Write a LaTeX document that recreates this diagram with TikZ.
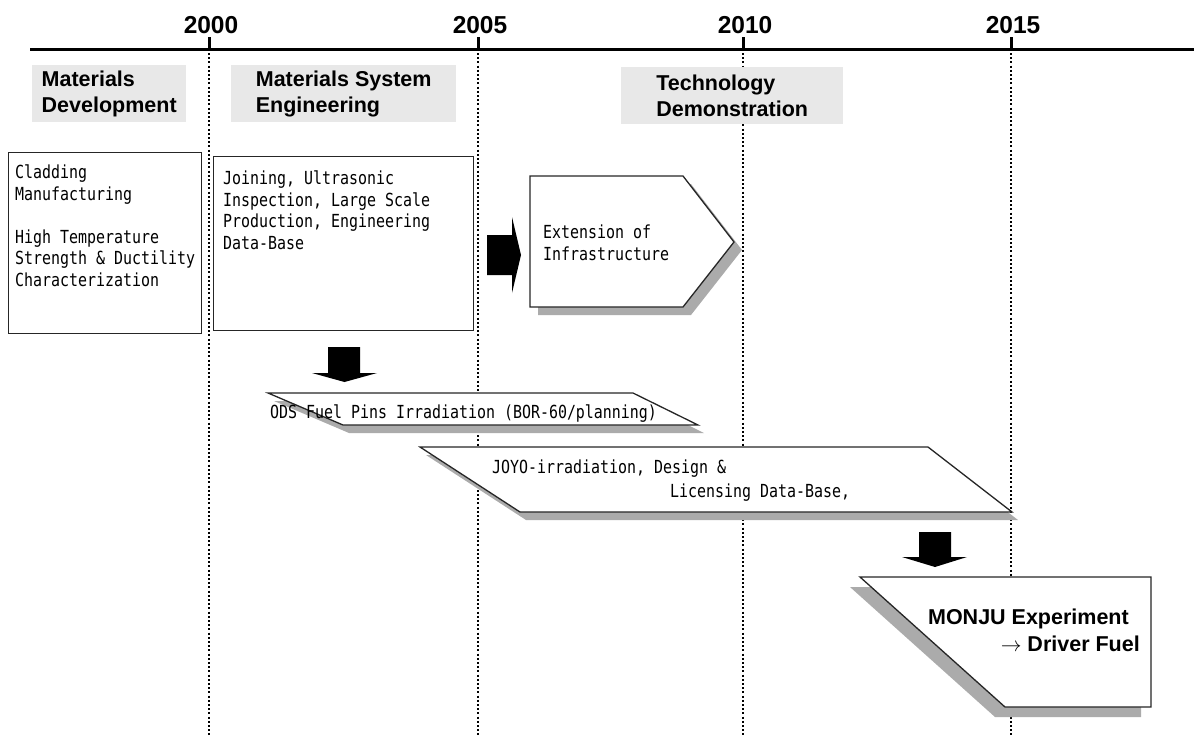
\documentclass[tikz,border=0pt]{standalone}
\usepackage{fontspec}
\setmainfont{Liberation Sans}
\newfontfamily\jmono[FakeStretch=0.83]{DejaVu Sans Mono}
\begin{document}
\begin{tikzpicture}[x=1pt,y=-1pt,
  mono/.style={font=\jmono\fontsize{18}{21.5}\selectfont, align=left, inner sep=0pt},
  boldtxt/.style={font=\bfseries\fontsize{21.5}{26}\selectfont, align=left, inner sep=0pt},
  yearlbl/.style={font=\bfseries\fontsize{24.5}{28}\selectfont, inner sep=0pt, anchor=base},
  phasebox/.style={fill=gray!18, draw=none, inner sep=0pt, boldtxt, minimum height=57pt},
  framebox/.style={draw=black!85, line width=1.3pt, fill=white, inner sep=0pt, anchor=north west},
  frameshape/.style={draw=black!85, line width=1.3pt, fill=white},
  shade/.style={fill=black!33},
  blockarrow/.style={fill=black},
  yearline/.style={black, line width=2pt, dash pattern=on 2pt off 2.2pt},
  axis/.style={black, line width=3pt},
]
\useasboundingbox (0,0) rectangle (1194,737);

% ---- time axis ----
\coordinate (axL) at (30,49);
\coordinate (axR) at (1194,49);
\draw[axis] (axL) -- (axR);
\foreach \yr/\xx in {2000/209,2005/478,2010/743,2015/1011}{
  \coordinate (t\yr) at (\xx,49);
  \coordinate (b\yr) at (\xx,737);
  \draw[yearline] ([yshift=-4pt]t\yr) -- (b\yr);
  \draw[axis] (\xx,37) -- (t\yr);
  \node[yearlbl] (y\yr) at (\xx+2,33) {\yr};
}

% ---- phase headers ----
\node[phasebox, minimum width=154pt, anchor=north west] (hdrA) at (32,65) {Materials\\Development};
\node[phasebox, minimum width=225pt, anchor=north west] (hdrB) at (231,65) {Materials System\\Engineering};
\node[phasebox, minimum width=222pt, anchor=north west] (hdrC) at (621,67) {Technology\\Demonstration};

% ---- boxes ----
\node[framebox, minimum width=193pt, minimum height=181pt] (box1) at (8,152) {};
\node[mono, anchor=north west] (box1txt) at (15,164.8)
  {Cladding\\Manufacturing\\[21.5pt]High Temperature\\Strength \& Ductility\\Characterization};

\node[framebox, minimum width=260pt, minimum height=174pt] (box2) at (213,156) {};
\node[mono, anchor=north west] (box2txt) at (223,170.8)
  {Joining, Ultrasonic\\Inspection, Large Scale\\Production, Engineering\\Data-Base};

% ---- right block arrow ----
\fill[blockarrow] (487,235) -- (512,235) -- (512,217) -- (521,255) -- (512,293) -- (512,275) -- (487,275) -- cycle;

% ---- Extension of infrastructure ----
\fill[shade, shift={(8,8)}] (530,176) -- (683,176) -- (734,242) -- (683,307) -- (530,307) -- cycle;
\path[frameshape] (530,176) -- (683,176) -- (734,242) -- (683,307) -- (530,307) -- cycle;
\node[mono, anchor=north west] (exttxt) at (543,224.8) {Extension of\\Infrastructure};

% ---- down arrow 1 ----
\fill[blockarrow] (328,347) -- (360,347) -- (360,373) -- (377,373) -- (344.5,382) -- (312,373) -- (328,373) -- cycle;

% ---- ODS fuel pins ----
\fill[shade, shift={(6,8)}] (268,393) -- (633,393) -- (698,425) -- (343,425) -- cycle;
\path[frameshape] (268,393) -- (633,393) -- (698,425) -- (343,425) -- cycle;
\node[mono, anchor=base west] (odstxt) at (270,418.3) {ODS Fuel Pins Irradiation (BOR-60/planning)};

% ---- JOYO ----
\fill[shade, shift={(6,8)}] (420,447) -- (928,447) -- (1012,512) -- (520,512) -- cycle;
\path[frameshape] (420,447) -- (928,447) -- (1012,512) -- (520,512) -- cycle;
\node[mono, anchor=base west] (joyoA) at (492,473.3) {JOYO-irradiation, Design \&};
\node[mono, anchor=base west] (joyoB) at (670,497.3) {Licensing Data-Base,};

% ---- down arrow 2 ----
\fill[blockarrow] (919,532) -- (951,532) -- (951,557) -- (967,557) -- (935,567) -- (902,557) -- (919,557) -- cycle;

% ---- MONJU ----
\fill[shade, shift={(-10,10)}] (860,577) -- (1151,577) -- (1151,707) -- (1005,707) -- cycle;
\path[frameshape] (860,577) -- (1151,577) -- (1151,707) -- (1005,707) -- cycle;
\node[boldtxt, anchor=base east] (monjuA) at (1129,624.7) {MONJU Experiment};
\node[boldtxt, anchor=base east] (monjuB) at (1140,651.7) {$\rightarrow$ Driver Fuel};
\end{tikzpicture}
\end{document}
